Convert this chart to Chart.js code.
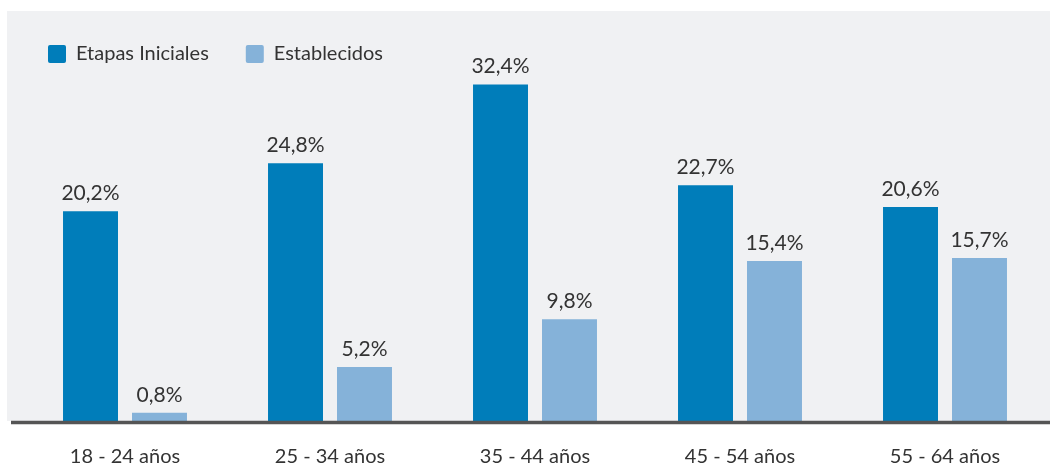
<!DOCTYPE html>
<html>
<head>
<meta charset="utf-8">
<script src="https://cdn.jsdelivr.net/npm/chart.js@4.4.1/dist/chart.umd.min.js"></script>
<style>
  html, body { margin: 0; padding: 0; background: #ffffff; }
  #wrap { width: 1050px; height: 468px; position: relative; }
</style>
</head>
<body>
<div id="wrap"><canvas id="c" width="1050" height="468"></canvas></div>
<script>
const categories = ['18 - 24 años', '25 - 34 años', '35 - 44 años', '45 - 54 años', '55 - 64 años'];
const seriesNames = ['Etapas Iniciales', 'Establecidos'];
const etapasIniciales = [20.2, 24.8, 32.4, 22.7, 20.6];
const establecidos = [0.8, 5.2, 9.8, 15.4, 15.7];
const colors = ['#007dba', '#85b2d9'];

const FONT = 'Lato, "Open Sans", sans-serif';
const TEXT = '#333333';

const bgPlugin = {
  id: 'bg',
  beforeDraw(chart) {
    const ctx = chart.ctx;
    const y0 = chart.scales.y.getPixelForValue(0);
    ctx.save();
    ctx.fillStyle = '#f0f1f3';
    ctx.fillRect(7, 11, chart.width - 7, y0 - 11);
    ctx.restore();
  },
  afterDatasetsDraw(chart) {
    const ctx = chart.ctx;
    const y0 = chart.scales.y.getPixelForValue(0);
    ctx.save();
    ctx.strokeStyle = '#555555';
    ctx.lineWidth = 3.5;
    ctx.beginPath();
    ctx.moveTo(11, y0 + 1.5);
    ctx.lineTo(chart.width, y0 + 1.5);
    ctx.stroke();
    // value labels
    ctx.fillStyle = TEXT;
    ctx.font = '21px ' + FONT;
    ctx.textAlign = 'center';
    ctx.textBaseline = 'alphabetic';
    chart.data.datasets.forEach((ds, di) => {
      const meta = chart.getDatasetMeta(di);
      meta.data.forEach((bar, i) => {
        const v = ds.data[i];
        const txt = v.toFixed(1).replace('.', ',') + '%';
        ctx.fillText(txt, bar.x, bar.y - 11);
      });
    });
    ctx.restore();
  }
};

new Chart(document.getElementById('c'), {
  type: 'bar',
  data: {
    labels: categories,
    datasets: [
      { label: seriesNames[0], data: etapasIniciales, backgroundColor: colors[0], categoryPercentage: 0.673, barPercentage: 0.797 },
      { label: seriesNames[1], data: establecidos, backgroundColor: colors[1], categoryPercentage: 0.673, barPercentage: 0.797 }
    ]
  },
  options: {
    responsive: false,
    animation: false,
    layout: { padding: { left: 11, right: 2.5, top: 7, bottom: 0 } },
    plugins: {
      legend: {
        display: true,
        position: 'top',
        align: 'start',
        labels: {
          boxWidth: 18,
          boxHeight: 18,
          useBorderRadius: true,
          borderRadius: 2,
          padding: 37,
          color: TEXT,
          font: { family: FONT, size: 20 }
        }
      },
      tooltip: { enabled: false }
    },
    scales: {
      x: {
        grid: { display: false, drawTicks: false },
        border: { display: false },
        ticks: { color: TEXT, font: { family: FONT, size: 20 }, padding: 24 },
        afterFit(s) { s.height = 47; }
      },
      y: {
        display: true,
        min: 0,
        max: 33.4,
        grid: { display: false },
        border: { display: false },
        ticks: { display: false },
        afterFit(s) { s.width = 11.5; }
      }
    }
  },
  plugins: [bgPlugin]
});
</script>
</body>
</html>
